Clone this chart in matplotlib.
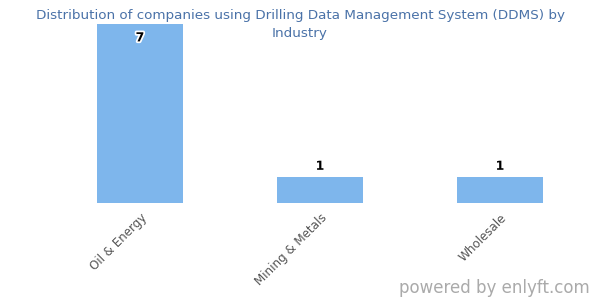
import matplotlib
matplotlib.use('Agg')
import matplotlib.pyplot as plt
import matplotlib.patheffects as pe

# data
industries = ['Oil & Energy', 'Mining & Metals', 'Wholesale']
counts = [7, 1, 1]

fig = plt.figure(figsize=(6, 3), dpi=100)
ax = fig.add_axes([50/600, 97/300, 540/600, 179/300])

bars = ax.bar(range(len(industries)), counts, width=0.478, color='#7eb6ec')
ax.set_xlim(-0.5, 2.5)
ax.set_ylim(0, 7)

for b, v in zip(bars, counts):
    x = b.get_x() + b.get_width() / 2
    # the tallest bar gets its label inside, the rest above
    off = -10 if v == max(counts) else 8
    ax.annotate(str(v), (x, v), xytext=(0, off), textcoords='offset points',
                ha='center', va='center', fontsize=9, fontweight='bold',
                color='black',
                path_effects=[pe.withStroke(linewidth=2.5, foreground='white')])

ax.set_xticks(range(len(industries)))
ax.set_xticklabels(industries, rotation=45, ha='right', rotation_mode='anchor',
                   fontsize=8.6, color='#555555')
ax.tick_params(axis='x', length=0, pad=6)
ax.set_yticks([])
for s in ax.spines.values():
    s.set_visible(False)

fig.text(0.5, 1 - 15/300, 'Distribution of companies using Drilling Data Management System (DDMS) by',
         ha='center', va='center', fontsize=9.7, color='#4a72a8')
fig.text(0.5, 1 - 33/300, 'Industry', ha='center', va='center', fontsize=9.7, color='#4a72a8')

fig.text(1 - 10/600, 12/300, 'powered by enlyft.com', ha='right', va='center',
         fontsize=12, color='#aaaaaa')

fig.savefig('out.png', dpi=100)
